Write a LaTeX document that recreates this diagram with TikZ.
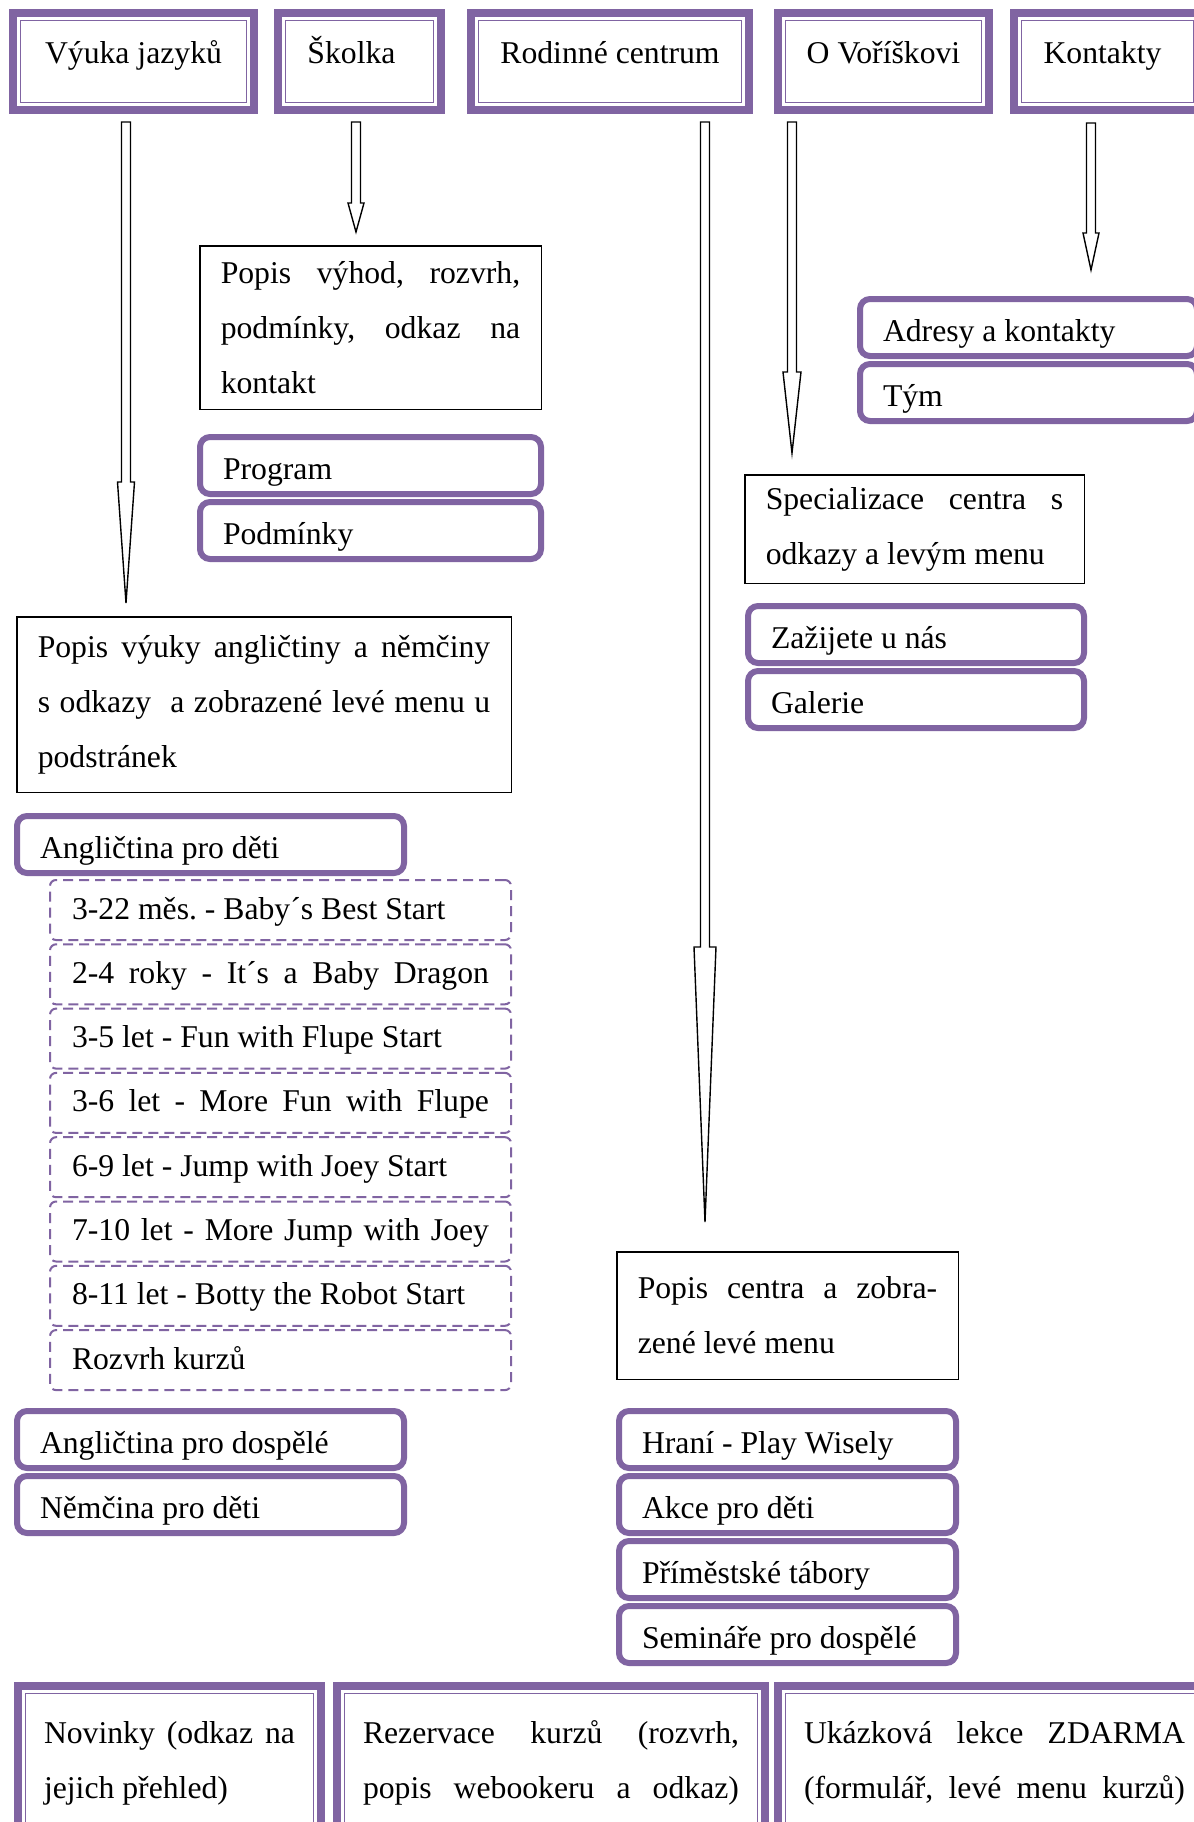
\documentclass[tikz,border=0pt]{standalone}
\usepackage{fontspec}
\setmainfont{Liberation Serif}
\frenchspacing
\usetikzlibrary{calc}
\definecolor{vpurple}{RGB}{128,100,162}
\newcommand\fullline[1]{\makebox[\hsize][s]{#1}}
% block arrow: start, tip, head length, head half width
\newcommand\blockarrow[4]{%
  \draw[blockarr] ($(#1)+(-4.5,0)$) -- ($(#1)+(4.5,0)$) -- ($(#2)+(4.5,-#3)$)
    -- ($(#2)+(#4,-#3)$) -- (#2) -- ($(#2)+(-#4,-#3)$) -- ($(#2)+(-4.5,-#3)$) -- cycle;}

\begin{document}
\begin{tikzpicture}[x=0.5pt,y=-0.5pt,
  every node/.style={font=\fontsize{15.85pt}{27.5pt}\selectfont},
  navbox/.style={draw=vpurple,line width=4pt,anchor=north west,inner sep=0pt,
    minimum height=48.5pt,minimum width=#1,text height=8.2pt,text depth=5.9pt},
  botbox/.style={draw=vpurple,line width=4pt,anchor=north west,align=flush left,
    inner xsep=13pt,inner ysep=0pt,minimum height=77pt,text width=#1},
  navinner/.style={draw=vpurple,line width=0.75pt},
  descbox/.style 2 args={draw=black,line width=0.75pt,anchor=north west,align=flush left,
    inner xsep=10.5pt,inner ysep=0pt,text width=#1,minimum height=#2},
  menubox/.style={draw=vpurple,line width=3pt,rounded corners=5pt,anchor=north west,
    align=flush left,inner xsep=11.5pt,inner ysep=0pt,minimum height=28.5pt,
    text height=14pt,text depth=0pt,text width=#1},
  subbox/.style={draw=vpurple,line width=1pt,dash pattern=on 5pt off 3pt,
    rounded corners=3pt,anchor=north west,align=flush left,inner xsep=11pt,inner ysep=0pt,
    minimum height=30pt,text width=208.5pt,text height=11.5pt,text depth=2.5pt},
  blockarr/.style={draw=black,line width=0.7pt,fill=white}]

  \fill[white] (0,0) rectangle (1194,1822);
  \useasboundingbox (0,0) rectangle (1194,1822);

  % top menu
  \node[navbox=120.5pt] (vyuka) at (9,9) {Výuka jazyků};
  \node[navbox=81.5pt] (skolka) at (274,9) {Školka\hspace{8pt}\mbox{}};
  \node[navbox=139pt] (rodinne) at (467,9) {Rodinné centrum};
  \node[navbox=105.5pt] (vorisek) at (774,9) {O Voříškovi};
  \node[navbox=93.5pt] (kontakty) at (1010,9) {Kontakty\hspace{5pt}\mbox{}};

  % bottom menu
  \node[botbox=125.5pt] (novinky) at (14,1682) {\fullline{Novinky (odkaz na}\\jejich přehled)};
  \node[botbox=188pt] (rezervace) at (333,1682) {\fullline{Rezervace kurzů (rozvrh,}\\\fullline{popis webookeru a odkaz)}};
  \node[botbox=190.5pt] (ukazka) at (774,1682) {\fullline{Ukázková lekce ZDARMA}\\\fullline{(formulář, levé menu kurzů)}};

  \foreach \n in {vyuka,skolka,rodinne,vorisek,kontakty,novinky,rezervace,ukazka}
    \draw[navinner] ([shift={(11.5,11.5)}]\n.north west) rectangle ([shift={(-11.5,-11.5)}]\n.south east);

  % page descriptions
  \node[descbox={149.75pt}{81.75pt}] (skolkaText) at (199,245)
    {\fullline{Popis výhod, rozvrh,}\\\fullline{podmínky, odkaz na}\\kontakt};
  \node[descbox={226.25pt}{87.75pt}] (vyukaText) at (16,616)
    {\fullline{Popis výuky angličtiny a němčiny}\\\fullline{s odkazy \ a zobrazené levé menu u}\\podstránek};
  \node[descbox={148.75pt}{54.25pt}] (vorisekText) at (744,474)
    {\fullline{Specializace centra s}\\odkazy a levým menu};
  \node[descbox={149.75pt}{63.75pt}] (rodinneText) at (616,1251)
    {\fullline{Popis centra a zobra-}\\zené levé menu};

  % left menus
  \node[menubox=147.5pt] (program) at (197,434) {Program};
  \node[menubox=147.5pt] (podminky) at (197,499) {Podmínky};
  \node[menubox=145pt] (zazijete) at (745,603) {Zažijete u nás};
  \node[menubox=145pt] (galerie) at (745,668) {Galerie};
  \node[menubox=145.5pt] (adresy) at (857,296) {Adresy a kontakty};
  \node[menubox=145.5pt] (tym) at (857,361) {Tým};
  \node[menubox=170.5pt] (anglDeti) at (14,813) {Angličtina pro děti};
  \node[menubox=170.5pt] (anglDosp) at (14,1408) {Angličtina pro dospělé};
  \node[menubox=170.5pt] (nemcina) at (14,1473) {Němčina pro děti};
  \node[menubox=145.5pt] (hrani) at (616,1408) {Hraní - Play Wisely};
  \node[menubox=145.5pt] (akce) at (616,1473) {Akce pro děti};
  \node[menubox=145.5pt] (tabory) at (616,1538) {Příměstské tábory};
  \node[menubox=145.5pt] (seminare) at (616,1603) {Semináře pro dospělé};

  % courses
  \foreach \t [count=\i from 0] in {{3-22 měs. - Baby´s Best Start},
      {\fullline{2-4 roky - It´s a Baby Dragon}},{3-5 let - Fun with Flupe Start},
      {\fullline{3-6 let - More Fun with Flupe}},{6-9 let - Jump with Joey Start},
      {\fullline{7-10 let - More Jump with Joey}},{8-11 let - Botty the Robot Start},
      {Rozvrh kurzů}}
    \node[subbox] (kurz\i) at (49,{879+64.3*\i}) {\t};

  % arrows
  \coordinate (vyukaS) at (126,122);   \coordinate (vyukaE) at (126,603);
  \coordinate (skolkaS) at (356,122);  \coordinate (skolkaE) at (356,232);
  \coordinate (rodinneS) at (705,122); \coordinate (rodinneE) at (705,1222);
  \coordinate (vorisekS) at (792,122); \coordinate (vorisekE) at (792,453);
  \coordinate (kontaktyS) at (1091,123); \coordinate (kontaktyE) at (1091,270);
  \blockarrow{vyukaS}{vyukaE}{121}{8.5}
  \blockarrow{skolkaS}{skolkaE}{29}{8}
  \blockarrow{rodinneS}{rodinneE}{275}{11}
  \blockarrow{vorisekS}{vorisekE}{81}{9}
  \blockarrow{kontaktyS}{kontaktyE}{37}{8}
\end{tikzpicture}
\end{document}
